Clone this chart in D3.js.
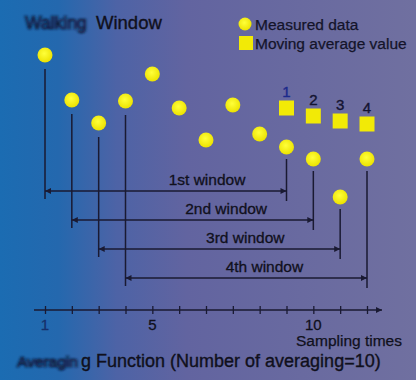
<!DOCTYPE html>
<html>
<head>
<meta charset="utf-8">
<script src="https://cdn.jsdelivr.net/npm/d3@7"></script>
<style>
  html, body { margin: 0; padding: 0; background: #5f66a0; }
  svg { display: block; }
  text { font-family: "Liberation Sans", Arial, sans-serif; }
</style>
</head>
<body>
<div id="chart"></div>
<script>
var WIDTH = 416
var HEIGHT = 380

var sampleTimes = [1, 2, 3, 4, 5, 6, 7, 8, 9, 10, 11, 12, 13]
var measured = [9.75, 7.5, 6.35, 7.45, 8.8, 7.1, 5.5, 7.25, 5.8, 5.15, 4.55, 2.65, 4.55]

// moving average values, one per window
var windowSize = 10
var movingAvg = [7.1, 6.7, 6.45, 6.3]
var avgLabels = ['1', '2', '3', '4']
var windowLabels = ['1st window', '2nd window', '3rd window', '4th window']

// axis tick labels as printed (the "10" sits under the 11th tick in the original)
var tickLabels = [
  { at: 1, text: '1' },
  { at: 5, text: '5' },
  { at: 11, text: '10' }
]

var legendItems = ['Measured data', 'Moving average value']

var x = d3.scaleLinear().domain([1, 13]).range([45, 367])
var y = d3.scaleLinear().domain([0, 10]).range([250, 50])
var rowY = d3.scalePoint().domain(windowLabels).range([191, 278])

var INK = '#10101c'

var svg = d3.select('#chart')
  .append('svg')
  .attr('width', WIDTH)
  .attr('height', HEIGHT)

var defs = svg.append('defs')

var bg = defs.append('linearGradient')
  .attr('id', 'bg')
  .attr('x1', 0).attr('y1', 0).attr('x2', 1).attr('y2', 0)
bg.append('stop').attr('offset', '0%').attr('stop-color', '#1b6cb2')
bg.append('stop').attr('offset', '14%').attr('stop-color', '#2468ae')
bg.append('stop').attr('offset', '28%').attr('stop-color', '#4d63a6')
bg.append('stop').attr('offset', '45%').attr('stop-color', '#6264a0')
bg.append('stop').attr('offset', '100%').attr('stop-color', '#7070a0')

var dotGrad = defs.append('radialGradient')
  .attr('id', 'dot')
  .attr('cx', '45%').attr('cy', '40%').attr('r', '60%')
dotGrad.append('stop').attr('offset', '0%').attr('stop-color', '#ffff3a')
dotGrad.append('stop').attr('offset', '100%').attr('stop-color', '#ece200')

defs.append('filter')
  .attr('id', 'smear')
  .attr('x', '-20%').attr('y', '-40%').attr('width', '140%').attr('height', '180%')
  .append('feGaussianBlur')
  .attr('stdDeviation', '1.6 1.1')

defs.append('marker')
  .attr('id', 'head')
  .attr('viewBox', '0 0 10 10')
  .attr('refX', 10).attr('refY', 5)
  .attr('markerWidth', 9).attr('markerHeight', 6)
  .attr('markerUnits', 'userSpaceOnUse')
  .attr('orient', 'auto-start-reverse')
  .append('path')
  .attr('d', 'M0,0L10,5L0,10z')
  .attr('fill', '#1a1a32')

svg.append('rect')
  .attr('width', WIDTH)
  .attr('height', HEIGHT)
  .attr('fill', 'url(#bg)')

// title (first word is smeared in the original print)
svg.append('text')
  .attr('x', 25).attr('y', 29)
  .attr('font-size', 17.5)
  .attr('fill', '#0c1638')
  .attr('stroke', '#0c1638').attr('stroke-width', 0.8)
  .attr('filter', 'url(#smear)')
  .text('Walking')
svg.append('text')
  .attr('x', 96).attr('y', 29)
  .attr('font-size', 18.5)
  .attr('fill', INK)
  .attr('stroke', INK).attr('stroke-width', 0.35)
  .text('Window')

// legend
var legend = svg.append('g')
  .attr('fill', '#14142a')
  .attr('stroke', '#14142a').attr('stroke-width', 0.25)
  .attr('font-size', 15.5)
legend.append('circle').attr('cx', 245).attr('cy', 24).attr('r', 6.5).attr('fill', 'url(#dot)').attr('stroke', 'none')
legend.append('rect').attr('x', 239).attr('y', 36).attr('width', 14).attr('height', 14).attr('fill', '#f2ea06').attr('stroke', 'none')
legend.selectAll('text.leg')
  .data(legendItems)
  .enter().append('text')
  .attr('class', 'leg')
  .attr('x', 255)
  .attr('y', function (d, i) { return 30 + i * 19 })
  .text(function (d) { return d })

// window spans
var windows = svg.append('g')
windowLabels.forEach(function (label, i) {
  var first = sampleTimes[i]
  var last = sampleTimes[i + windowSize - 1]
  var ly = rowY(label)

  windows.append('line')
    .attr('x1', x(first)).attr('y1', y(measured[i]) + 14)
    .attr('x2', x(first)).attr('y2', ly + 8)
    .attr('stroke', '#1a1a32').attr('stroke-width', 1.5)
  windows.append('line')
    .attr('x1', x(last)).attr('y1', y(measured[i + windowSize - 1]) + 12)
    .attr('x2', x(last)).attr('y2', ly + 10)
    .attr('stroke', '#1a1a32').attr('stroke-width', 1.5)
  windows.append('line')
    .attr('x1', x(first)).attr('y1', ly)
    .attr('x2', x(last)).attr('y2', ly)
    .attr('stroke', '#1a1a32').attr('stroke-width', 1.3)
    .attr('marker-start', 'url(#head)')
    .attr('marker-end', 'url(#head)')
  windows.append('text')
    .attr('x', x(first) + 162 - 7.7 * i)
    .attr('y', ly - 6)
    .attr('text-anchor', 'middle')
    .attr('font-size', 15.5)
    .attr('fill', INK)
    .attr('stroke', INK).attr('stroke-width', 0.3)
    .text(label)
})

// measured dots
svg.append('g')
  .selectAll('circle')
  .data(measured)
  .enter().append('circle')
  .attr('cx', function (d, i) { return x(sampleTimes[i]) })
  .attr('cy', function (d) { return y(d) })
  .attr('r', 7.5)
  .attr('fill', 'url(#dot)')

// moving average squares
var avg = svg.append('g')
avg.selectAll('rect')
  .data(movingAvg)
  .enter().append('rect')
  .attr('x', function (d, i) { return x(sampleTimes[windowSize - 1 + i]) - 7.5 })
  .attr('y', function (d) { return y(d) - 7.5 })
  .attr('width', 15)
  .attr('height', 15)
  .attr('fill', '#f2ea06')
avg.selectAll('text')
  .data(movingAvg)
  .enter().append('text')
  .attr('x', function (d, i) { return x(sampleTimes[windowSize - 1 + i]) })
  .attr('y', function (d) { return y(d) - 11 })
  .attr('text-anchor', 'middle')
  .attr('font-size', 15)
  .attr('fill', function (d, i) { return i === 0 ? '#1c2a8c' : '#141432' })
  .attr('stroke', function (d, i) { return i === 0 ? '#1c2a8c' : '#141432' })
  .attr('stroke-width', 0.4)
  .text(function (d, i) { return avgLabels[i] })

// sampling axis
var axisY = 310
var axis = svg.append('g').attr('transform', 'translate(0,' + axisY + ')')
  .call(d3.axisBottom(x)
    .tickValues(sampleTimes)
    .tickSize(0)
    .tickFormat(''))
axis.select('.domain').remove()
axis.append('line')
  .attr('x1', 34).attr('x2', 382)
  .attr('stroke', '#1a1a32').attr('stroke-width', 1.3)
  .attr('marker-end', 'url(#head)')
axis.selectAll('.tick').append('line')
  .attr('y1', -4).attr('y2', 4)
  .attr('stroke', '#1a1a32').attr('stroke-width', 1.3)
axis.selectAll('text.lbl')
  .data(tickLabels)
  .enter().append('text')
  .attr('class', 'lbl')
  .attr('x', function (d) { return x(d.at) })
  .attr('y', 20)
  .attr('text-anchor', 'middle')
  .attr('font-size', 15)
  .attr('fill', function (d) { return d.at === 1 ? '#16306a' : INK })
  .attr('stroke', function (d) { return d.at === 1 ? '#16306a' : INK })
  .attr('stroke-width', 0.3)
  .text(function (d) { return d.text })

svg.append('text')
  .attr('x', 402).attr('y', 346)
  .attr('text-anchor', 'end')
  .attr('font-size', 15.5)
  .attr('fill', INK)
  .attr('stroke', INK).attr('stroke-width', 0.25)
  .text('Sampling times')

// bottom caption (start smeared as in the original)
svg.append('text')
  .attr('x', 17).attr('y', 367)
  .attr('font-size', 15.5)
  .attr('fill', '#0c1638')
  .attr('stroke', '#0c1638').attr('stroke-width', 0.9)
  .attr('filter', 'url(#smear)')
  .text('Averagin')
svg.append('text')
  .attr('x', 81).attr('y', 367)
  .attr('font-size', 18)
  .attr('fill', INK)
  .attr('stroke', INK).attr('stroke-width', 0.35)
  .text('g Function (Number of averaging=10)')
</script>
</body>
</html>
